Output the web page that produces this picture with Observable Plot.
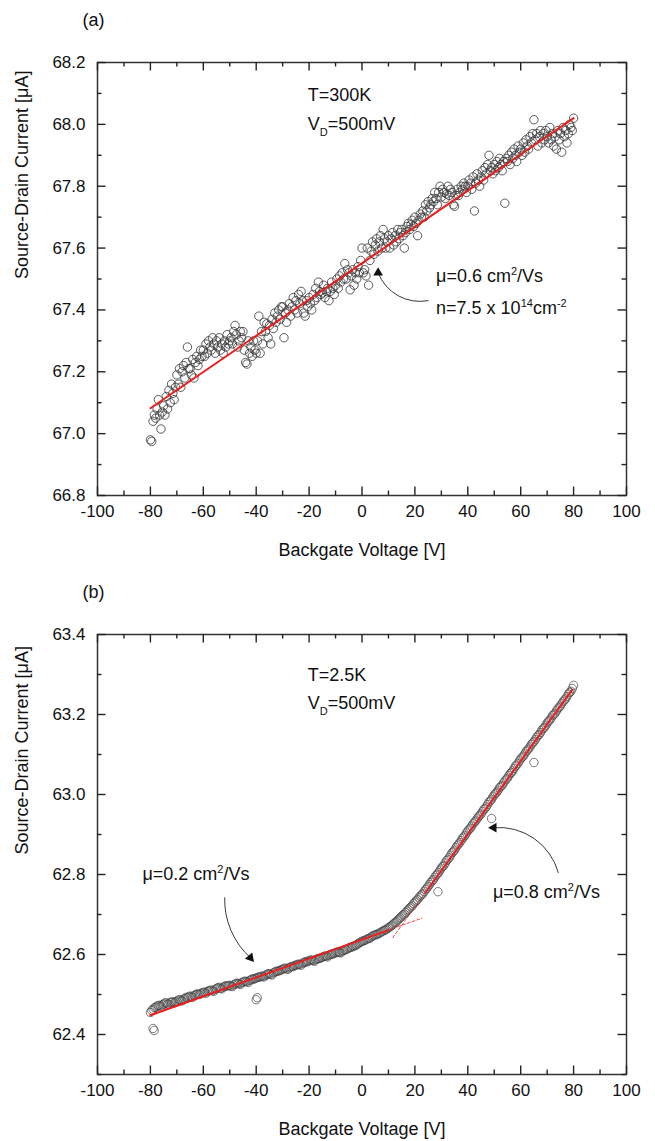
<!DOCTYPE html>
<html><head><meta charset="utf-8">
<script src="https://cdn.jsdelivr.net/npm/d3@7"></script>
<script src="https://cdn.jsdelivr.net/npm/@observablehq/plot@0.6"></script>
<style>
body{margin:0;background:#fff;}
#chart{width:655px;height:1141px;}
#chart svg{display:block;overflow:visible;}
</style></head><body><div id="chart"></div>
<script>
// ---------- ticks ----------
const xMajor = [-100, -80, -60, -40, -20, 0, 20, 40, 60, 80, 100];
const xMinor = [-90, -70, -50, -30, -10, 10, 30, 50, 70, 90];
const yMajorA = [66.8, 67.0, 67.2, 67.4, 67.6, 67.8, 68.0, 68.2];
const yMinorA = [66.9, 67.1, 67.3, 67.5, 67.7, 67.9, 68.1];
const yMajorB = [62.4, 62.6, 62.8, 63.0, 63.2, 63.4];
const yMinorB = [62.3, 62.5, 62.7, 62.9, 63.1, 63.3];

// ---------- panel (a): T=300K, gate sweep -80..80 V in 0.5 V steps ----------
const gateA = d3.range(-160, 161).map(i => i / 2);
const currentA = [
 66.98, 66.975, 67.04, 67.06, 67.05, 67.08, 67.11, 67.06, 67.015, 67.07,
 67.09, 67.06, 67.12, 67.08, 67.14, 67.10, 67.16, 67.13, 67.11, 67.15,
 67.19, 67.16, 67.21, 67.15, 67.20, 67.22, 67.18, 67.23, 67.28, 67.21,
 67.21, 67.19, 67.24, 67.18, 67.23, 67.25, 67.22, 67.24, 67.27, 67.25,
 67.27, 67.25, 67.29, 67.26, 67.30, 67.28, 67.27, 67.31, 67.29, 67.26,
 67.30, 67.28, 67.31, 67.27, 67.29, 67.26, 67.30, 67.28, 67.32, 67.29,
 67.30, 67.31, 67.29, 67.33, 67.35, 67.32, 67.28, 67.30, 67.33, 67.31,
 67.33, 67.27, 67.23, 67.225, 67.30, 67.26, 67.28, 67.25, 67.30, 67.27,
 67.26, 67.30, 67.38, 67.26, 67.33, 67.29, 67.36, 67.33, 67.355, 67.31,
 67.35, 67.29, 67.37, 67.34, 67.39, 67.36, 67.38, 67.40, 67.37, 67.41,
 67.41, 67.31, 67.39, 67.36, 67.40, 67.42, 67.38, 67.41, 67.44, 67.40,
 67.43, 67.39, 67.45, 67.42, 67.46, 67.43, 67.39, 67.38, 67.43, 67.41,
 67.44, 67.42, 67.40, 67.45, 67.43, 67.47, 67.44, 67.49, 67.46, 67.45,
 67.455, 67.48, 67.44, 67.46, 67.47, 67.43, 67.46, 67.49, 67.47, 67.45,
 67.48, 67.50, 67.47, 67.51, 67.49, 67.52, 67.50, 67.55, 67.50, 67.53,
 67.52, 67.465, 67.51, 67.53, 67.48, 67.52, 67.50, 67.54, 67.52, 67.56,
 67.60, 67.52, 67.53, 67.51, 67.60, 67.48, 67.56, 67.59, 67.62, 67.58,
 67.61, 67.63, 67.59, 67.62, 67.64, 67.60, 67.66, 67.63, 67.60, 67.62,
 67.64, 67.60, 67.63, 67.65, 67.61, 67.64, 67.62, 67.66, 67.63, 67.65,
 67.66, 67.64, 67.60, 67.65, 67.67, 67.68, 67.66, 67.675, 67.69, 67.67,
 67.70, 67.68, 67.64, 67.69, 67.71, 67.70, 67.72, 67.70, 67.74, 67.72,
 67.75, 67.73, 67.74, 67.76, 67.75, 67.78, 67.76, 67.74, 67.78, 67.80,
 67.765, 67.79, 67.78, 67.76, 67.775, 67.80, 67.77, 67.79, 67.78, 67.74,
 67.735, 67.77, 67.79, 67.77, 67.78, 67.80, 67.79, 67.81, 67.80, 67.78,
 67.80, 67.82, 67.81, 67.79, 67.83, 67.72, 67.81, 67.84, 67.82, 67.80,
 67.83, 67.85, 67.82, 67.86, 67.84, 67.87, 67.90, 67.85, 67.86, 67.84,
 67.87, 67.85, 67.88, 67.86, 67.89, 67.87, 67.85, 67.88, 67.745, 67.89,
 67.88, 67.90, 67.87, 67.91, 67.89, 67.92, 67.90, 67.88, 67.93, 67.91,
 67.92, 67.90, 67.94, 67.91, 67.95, 67.93, 67.92, 67.96, 67.94, 67.97,
 68.015, 67.95, 67.97, 67.93, 67.96, 67.98, 67.94, 67.97, 67.95, 67.98,
 67.96, 67.94, 67.99, 67.95, 67.97, 67.93, 67.96, 67.92, 67.98, 67.95,
 67.97, 67.91, 67.99, 67.96, 67.98, 67.94, 67.97, 68.00, 67.99, 67.98,
 68.02
];
const fitAV = [-80, 80];
const fitAI = [67.082, 68.020];

// ---------- panel (b): T=2.5K, gate sweep -80..80 V, whole and half volts ----------
const gateB = d3.range(-80, 81);
const currentB = [
 62.455, 62.463, 62.468, 62.472, 62.470, 62.476, 62.479, 62.476, 62.481, 62.479,
 62.483, 62.487, 62.484, 62.490, 62.492, 62.496, 62.493, 62.499, 62.501, 62.502,
 62.505, 62.503, 62.509, 62.511, 62.508, 62.515, 62.518, 62.514, 62.520, 62.521,
 62.523, 62.520, 62.526, 62.528, 62.525, 62.531, 62.533, 62.530, 62.537, 62.538,
 62.541, 62.543, 62.546, 62.544, 62.550, 62.552, 62.549, 62.556, 62.558, 62.560,
 62.563, 62.566, 62.563, 62.569, 62.570, 62.573, 62.576, 62.573, 62.580, 62.581,
 62.584, 62.586, 62.583, 62.589, 62.590, 62.593, 62.596, 62.594, 62.600, 62.601,
 62.604, 62.606, 62.604, 62.610, 62.612, 62.616, 62.618, 62.621, 62.624, 62.629,
 62.633, 62.635, 62.639, 62.641, 62.646, 62.649, 62.651, 62.655, 62.659, 62.662,
 62.667, 62.671, 62.677, 62.682, 62.689, 62.696, 62.701, 62.709, 62.716, 62.722,
 62.731, 62.737, 62.746, 62.752, 62.762, 62.770, 62.780, 62.787, 62.798, 62.805,
 62.816, 62.823, 62.835, 62.842, 62.854, 62.861, 62.872, 62.880, 62.891, 62.898,
 62.909, 62.916, 62.927, 62.934, 62.944, 62.951, 62.962, 62.969, 62.981, 62.988,
 62.999, 63.006, 63.017, 63.023, 63.034, 63.041, 63.052, 63.059, 63.071, 63.078,
 63.089, 63.096, 63.107, 63.114, 63.125, 63.132, 63.143, 63.150, 63.161, 63.168,
 63.179, 63.186, 63.197, 63.203, 63.214, 63.221, 63.232, 63.239, 63.251, 63.258,
 63.273
];
const gateBhalf = d3.range(-80, 80).map(v => v + 0.5);
const currentBhalf = [
 62.460, 62.467, 62.471, 62.473, 62.474, 62.479, 62.476, 62.480, 62.482, 62.481,
 62.486, 62.485, 62.488, 62.493, 62.494, 62.495, 62.497, 62.501, 62.500, 62.504,
 62.506, 62.507, 62.510, 62.509, 62.513, 62.517, 62.515, 62.518, 62.522, 62.522,
 62.521, 62.524, 62.528, 62.527, 62.529, 62.533, 62.532, 62.535, 62.539, 62.540,
 62.543, 62.544, 62.545, 62.548, 62.552, 62.550, 62.554, 62.558, 62.559, 62.562,
 62.565, 62.564, 62.567, 62.570, 62.572, 62.575, 62.575, 62.578, 62.582, 62.583,
 62.586, 62.585, 62.587, 62.590, 62.592, 62.595, 62.596, 62.598, 62.601, 62.603,
 62.606, 62.605, 62.608, 62.612, 62.614, 62.618, 62.620, 62.623, 62.627, 62.631,
 62.634, 62.637, 62.640, 62.644, 62.648, 62.650, 62.653, 62.657, 62.661, 62.664,
 62.669, 62.674, 62.680, 62.686, 62.692, 62.699, 62.705, 62.712, 62.719, 62.727,
 62.734, 62.742, 62.749, 62.757, 62.766, 62.775, 62.784, 62.793, 62.801, 62.811,
 62.820, 62.829, 62.838, 62.848, 62.857, 62.867, 62.876, 62.885, 62.894, 62.904,
 62.913, 62.921, 62.931, 62.939, 62.948, 62.957, 62.965, 62.975, 62.984, 62.994,
 63.003, 63.011, 63.020, 63.029, 63.038, 63.047, 63.055, 63.065, 63.074, 63.084,
 63.093, 63.101, 63.111, 63.119, 63.129, 63.137, 63.147, 63.155, 63.165, 63.173,
 63.183, 63.191, 63.200, 63.209, 63.218, 63.227, 63.236, 63.245, 63.255, 63.265
];
const outlierBV = [-79, -78.6, -40, -39.6, 28.7, 49, 65];
const outlierBI = [62.415, 62.41, 62.487, 62.492, 62.757, 62.94, 63.08];
const fitLowV = [-80, 10];
const fitLowI = [62.448, 62.661];
const fitHighV = [24, 79.5];
const fitHighI = [62.755, 63.262];
const extLowV = [10, 22.7];
const extLowI = [62.661, 62.691];
const extHighV = [11.6, 24];
const extHighI = [62.642, 62.755];

// ---------- annotations ----------
const annA = [
  {x: -20.5, y: 68.093, t: "T=300K"},
  {x: -20.5, y: 67.999, t: "V_{D}=500mV"},
  {x: 28.0, y: 67.508, t: "μ=0.6 cm^{2}/Vs"},
  {x: 28.0, y: 67.405, t: "n=7.5 x 10^{14}cm^{-2}"}
];
const arrowsA = [{x1: 25.0, y1: 67.43, x2: 6.1, y2: 67.52, bend: 40, rot: 0}];
const annB = [
  {x: -20.5, y: 63.2975, t: "T=2.5K"},
  {x: -20.5, y: 63.2275, t: "V_{D}=500mV"},
  {x: -83, y: 62.80, t: "μ=0.2 cm^{2}/Vs"},
  {x: 49.5, y: 62.755, t: "μ=0.8 cm^{2}/Vs"}
];
const arrowsB = [
  {x1: -51.9, y1: 62.742, x2: -42.2, y2: 62.592, bend: -25, rot: 140},
  {x1: 74.2, y1: 62.805, x2: 49.8, y2: 62.917, bend: -40, rot: -90}
];

const INK = "#333";
const FONT = "'Liberation Sans', Arial, sans-serif";
const fmt = d => String(d);
const W = 655, ML = 97, MR = 29, MT = 62;
const FW = W - ML - MR;
const XD = [-100, 100];

// inward ticks on all four sides; lengths in pixels converted to data units
function axes(yMajor, yMinor, YD, FH) {
  const tk = {stroke: "#222", strokeWidth: 1.4};
  const ux = px => px * (XD[1] - XD[0]) / FW;
  const uy = px => px * (YD[1] - YD[0]) / FH;
  const xt = (ticks, len) => [
    Plot.ruleX(ticks, {...tk, x: d => d, y1: YD[0], y2: YD[0] + uy(len)}),
    Plot.ruleX(ticks, {...tk, x: d => d, y1: YD[1], y2: YD[1] - uy(len)})
  ];
  const yt = (ticks, len) => [
    Plot.ruleY(ticks, {...tk, y: d => d, x1: XD[0], x2: XD[0] + ux(len)}),
    Plot.ruleY(ticks, {...tk, y: d => d, x1: XD[1], x2: XD[1] - ux(len)})
  ];
  return [
    ...xt(xMajor, 8.5), ...xt(xMinor, 4.5),
    ...yt(yMajor, 8.5), ...yt(yMinor, 4.5),
    Plot.axisX(xMajor, {anchor: "bottom", tickSize: 0, tickPadding: 9, fill: "#111", fontSize: 17, tickFormat: fmt, label: null}),
    Plot.axisY(yMajor, {anchor: "left", tickSize: 0, tickPadding: 12, fill: "#111", fontSize: 17, tickFormat: d => d.toFixed(1), label: null})
  ];
}

function titles(tag) {
  return [
    Plot.text(["Backgate Voltage [V]"], {text: d => d, frameAnchor: "bottom", lineAnchor: "middle", dy: 55, fontSize: 18, fill: "#111"}),
    Plot.text(["Source-Drain Current [μA]"], {text: d => d, frameAnchor: "left", rotate: -90, dx: -75, fontSize: 18, fill: "#111"}),
    Plot.text([tag], {text: d => d, frameAnchor: "top-left", textAnchor: "start", lineAnchor: "middle", dx: -15, dy: -42, fontSize: 18, fill: "#111"})
  ];
}

function annMarks(ann, arrows) {
  return [
    Plot.text(ann, {x: "x", y: "y", text: "t", textAnchor: "start", fontSize: 18, fill: "#111"}),
    ...arrows.map(a => Plot.arrow([a], {x1: "x1", y1: "y1", x2: "x2", y2: "y2", bend: a.bend, headLength: 0, stroke: "#222", strokeWidth: 0.9})),
    Plot.dot(arrows, {x: "x2", y: "y2", symbol: "triangle", r: 3.6, fill: "#111", stroke: "none", rotate: "rot"})
  ];
}

function richify(svg) {
  svg.querySelectorAll("text").forEach(t => {
    const s = t.textContent;
    if (!/[_^]\{/.test(s)) return;
    t.textContent = "";
    const parts = s.split(/([_^]\{[^}]*\})/).filter(p => p);
    let shift = 0;
    for (const p of parts) {
      const ts = document.createElementNS("http://www.w3.org/2000/svg", "tspan");
      let target = 0, txt = p, small = false;
      if (p[0] === "_") { target = 6; txt = p.slice(2, -1); small = true; }
      else if (p[0] === "^") { target = -7; txt = p.slice(2, -1); small = true; }
      if (target - shift !== 0) ts.setAttribute("dy", target - shift);
      shift = target;
      if (small) ts.setAttribute("font-size", 11);
      ts.textContent = txt;
      t.appendChild(ts);
    }
  });
}

const pair = (V, I) => V.map((v, i) => ({v, c: I[i]}));
const dataA = pair(gateA, currentA);
const fitA = pair(fitAV, fitAI);

const HA = 572, MBA = 77, YDA = [66.8, 68.2];
const plotA = Plot.plot({
  width: W, height: HA,
  marginTop: MT, marginBottom: MBA, marginLeft: ML, marginRight: MR,
  style: {fontFamily: FONT, fontSize: "17px", background: "white", color: "#111"},
  x: {domain: XD},
  y: {domain: YDA},
  marks: [
    Plot.dot(dataA, {x: "v", y: "c", r: 4.2, stroke: INK, strokeWidth: 0.8, fill: "none"}),
    Plot.line(fitA, {x: "v", y: "c", stroke: "#ee1c1c", strokeWidth: 2}),
    Plot.frame({stroke: INK, strokeWidth: 1.5}),
    ...axes(yMajorA, yMinorA, YDA, HA - MT - MBA),
    ...titles("(a)"),
    ...annMarks(annA, arrowsA)
  ]
});

const dataB = pair(gateB, currentB)
  .concat(pair(gateBhalf, currentBhalf))
  .concat(pair(outlierBV, outlierBI));

const HB = 569, MBB = 67, YDB = [62.3, 63.4];
const plotB = Plot.plot({
  width: W, height: HB,
  marginTop: MT, marginBottom: MBB, marginLeft: ML, marginRight: MR,
  style: {fontFamily: FONT, fontSize: "17px", background: "white", color: "#111"},
  x: {domain: XD},
  y: {domain: YDB},
  marks: [
    Plot.dot(dataB, {x: "v", y: "c", r: 4.2, stroke: "#444", strokeWidth: 0.7, fill: "none"}),
    Plot.line(pair(fitLowV, fitLowI), {x: "v", y: "c", stroke: "#ee1c1c", strokeWidth: 2}),
    Plot.line(pair(fitHighV, fitHighI), {x: "v", y: "c", stroke: "#ee1c1c", strokeWidth: 2}),
    Plot.line(pair(extLowV, extLowI), {x: "v", y: "c", stroke: "#ee1c1c", strokeWidth: 0.8, strokeDasharray: "3,2"}),
    Plot.line(pair(extHighV, extHighI), {x: "v", y: "c", stroke: "#ee1c1c", strokeWidth: 0.8, strokeDasharray: "3,2"}),
    Plot.frame({stroke: INK, strokeWidth: 1.5}),
    ...axes(yMajorB, yMinorB, YDB, HB - MT - MBB),
    ...titles("(b)"),
    ...annMarks(annB, arrowsB)
  ]
});

richify(plotA); richify(plotB);
document.getElementById("chart").append(plotA, plotB);
</script></body></html>
